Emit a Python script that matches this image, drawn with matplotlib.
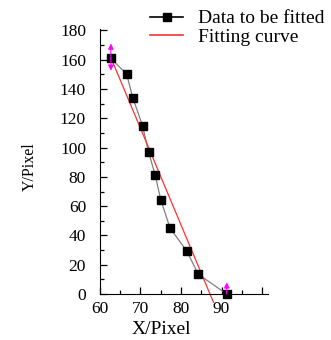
import matplotlib
matplotlib.use('Agg')
import matplotlib.pyplot as plt
from matplotlib.lines import Line2D
from matplotlib.ticker import MultipleLocator

plt.rcParams['font.family'] = ['Liberation Serif', 'DejaVu Serif']

# data
x_data = [62.7, 66.6, 68.1, 70.5, 72.0, 73.6, 75.0, 77.3, 81.4, 84.3, 91.3]
y_data = [161, 150, 134, 115, 97, 81.5, 64.5, 45, 29.5, 13.5, 0]

# fitting line end points
fit_x = [62.9, 88.0]
fit_y = [160, -5.5]

# magenta arrows (x, y_from, y_to)
arrows = [(62.7, 161, 171), (62.7, 161, 152.5), (91.3, 0, 8)]

x_ticks = [60, 70, 80, 90, 100]
x_labels = ["60", "70", "80", "90", ""]

fig = plt.figure(figsize=(3.31, 3.40), dpi=100)
ax = fig.add_axes([0.302, 0.135, 0.508, 0.78])

ax.plot(x_data, y_data, color="gray", linewidth=0.9, zorder=2)
ax.plot(x_data, y_data, linestyle="none", marker="s", markersize=6,
        color="black", zorder=3, clip_on=False)
ax.plot(fit_x, fit_y, color="#ff3030", linewidth=0.9, clip_on=False, zorder=2)

for x, y0, y1 in arrows:
    ax.annotate("", xy=(x, y1), xytext=(x, y0),
                arrowprops=dict(arrowstyle="-|>", color="magenta", lw=0.8,
                                mutation_scale=8, shrinkA=0, shrinkB=0),
                annotation_clip=False, zorder=4)

ax.set_xlim(60, 101.5)
ax.set_ylim(0, 181)
ax.set_xticks(x_ticks)
ax.set_xticklabels(x_labels)
ax.xaxis.set_minor_locator(MultipleLocator(5))
ax.yaxis.set_major_locator(MultipleLocator(20))
ax.yaxis.set_minor_locator(MultipleLocator(10))
ax.tick_params(which="major", direction="in", length=5, width=0.9, labelsize=12.5)
ax.tick_params(which="minor", direction="in", length=3, width=0.9)
ax.tick_params(axis="x", which="major", pad=5)
ax.tick_params(axis="y", which="major", pad=10)
ax.spines["top"].set_visible(False)
ax.spines["right"].set_visible(False)
ax.set_xlabel("X/Pixel", fontsize=14)
ax.xaxis.set_label_coords(0.363, -0.103)
ax.set_ylabel("Y/Pixel", fontsize=11.5)
ax.yaxis.set_label_coords(-0.37, 0.48)

handles = [
    Line2D([], [], color="black", linewidth=1.2, marker="s", markersize=6),
    Line2D([], [], color="#ff3030", linewidth=1.2),
]
fig.legend(handles, ["Data to be fitted", "Fitting curve"], loc="upper left",
           bbox_to_anchor=(0.425, 1.0), frameon=False, fontsize=14,
           handlelength=1.7, handletextpad=0.75, labelspacing=0.05,
           borderaxespad=0.1)

fig.savefig("out.png", dpi=100)
